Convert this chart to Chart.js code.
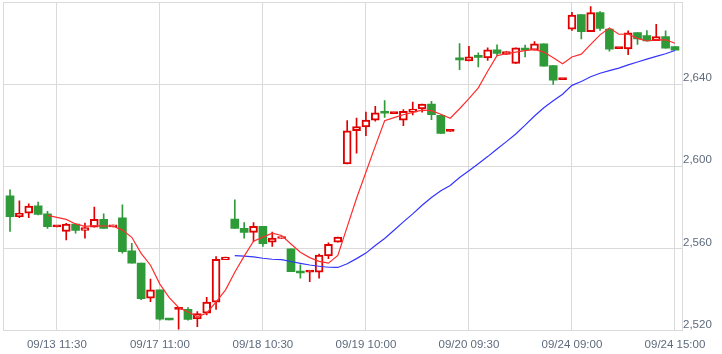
<!DOCTYPE html>
<html>
<head>
<meta charset="utf-8">
<script src="https://cdn.jsdelivr.net/npm/chart.js@4.4.1/dist/chart.umd.min.js"></script>
<style>
html, body { margin: 0; padding: 0; background: #fff; }
</style>
</head>
<body>
<canvas id="priceChart" width="722" height="354"></canvas>
<script>
const tickIndex = [5, 16, 27, 38, 49, 60, 71];
const tickLabels = ['09/13 11:30', '09/17 11:00', '09/18 10:30', '09/19 10:00', '09/20 09:30', '09/24 09:00', '09/24 15:00'];

const open = [
    2585.6, 2575.5, 2577.2, 2580.7, 2576.8, 2570.5, 2568.2, 2571.8, 2568.7, 2570.3,
    2574.2, 2570.5, 2574.9, 2558.8, 2552.8, 2535.7, 2539.8, 2525.2, 2530.3, 2530.3,
    2525.6, 2528.4, 2533.8, 2554.5, 2574.3, 2569.8, 2567.8, 2570.7, 2563.0, 2564.8,
    2559.8, 2549.0, 2548.4, 2548.4, 2556.3, 2563.0, 2601.1, 2617.3, 2619.1, 2622.5,
    2626.0, 2625.6, 2622.5, 2626.3, 2627.9, 2630.3, 2624.8, 2617.0, 2652.0, 2651.3,
    2653.2, 2652.8, 2656.7, 2654.5, 2650.1, 2657.5, 2656.5, 2659.6, 2649.0, 2642.2,
    2666.8, 2673.9, 2665.5, 2674.8, 2666.8, 2657.3, 2657.2, 2665.1, 2663.7, 2661.2,
    2663.2, 2658.3
];
const high = [
    2588.5, 2583.2, 2581.7, 2582.5, 2578.1, 2570.5, 2572.2, 2572.0, 2572.3, 2580.1,
    2576.8, 2571.3, 2581.2, 2562.5, 2552.8, 2545.0, 2539.8, 2525.2, 2530.8, 2531.2,
    2529.2, 2536.2, 2556.0, 2555.7, 2583.7, 2572.6, 2572.6, 2570.7, 2567.9, 2565.5,
    2559.8, 2552.0, 2548.4, 2557.2, 2562.7, 2565.5, 2622.2, 2623.5, 2626.4, 2629.2,
    2632.0, 2625.6, 2627.6, 2631.3, 2630.3, 2631.6, 2625.0, 2617.0, 2659.8, 2658.4,
    2655.2, 2657.7, 2659.1, 2655.8, 2657.7, 2659.0, 2660.7, 2659.6, 2649.0, 2642.2,
    2675.0, 2673.9, 2677.8, 2675.3, 2666.8, 2657.3, 2666.0, 2665.1, 2666.1, 2669.1,
    2666.0, 2658.3
];
const low = [
    2568.2, 2575.0, 2575.0, 2576.3, 2569.7, 2570.5, 2564.1, 2567.4, 2565.0, 2570.3,
    2569.7, 2570.5, 2557.7, 2552.8, 2535.0, 2534.0, 2525.0, 2525.1, 2520.6, 2525.0,
    2521.9, 2527.6, 2530.3, 2554.5, 2569.7, 2565.0, 2563.3, 2560.9, 2560.9, 2564.8,
    2548.7, 2545.5, 2543.8, 2545.5, 2555.0, 2563.0, 2601.1, 2606.4, 2614.9, 2621.9,
    2623.8, 2625.6, 2619.8, 2625.0, 2626.4, 2622.7, 2616.0, 2617.0, 2647.1, 2651.3,
    2648.4, 2651.6, 2654.0, 2654.5, 2650.1, 2653.3, 2656.5, 2648.7, 2639.8, 2642.2,
    2666.1, 2662.0, 2665.5, 2666.2, 2656.0, 2657.3, 2654.4, 2659.3, 2661.0, 2661.2,
    2657.5, 2656.5
];
const close = [
    2575.5, 2577.2, 2580.6, 2576.5, 2570.6, 2570.5, 2571.8, 2568.7, 2570.1, 2574.2,
    2569.7, 2571.3, 2558.4, 2552.8, 2535.5, 2539.8, 2525.5, 2525.1, 2530.3, 2525.4,
    2528.2, 2533.8, 2554.7, 2555.7, 2569.7, 2567.8, 2570.7, 2562.3, 2565.0, 2565.5,
    2548.7, 2548.0, 2548.4, 2556.7, 2562.0, 2565.5, 2617.3, 2619.3, 2622.5, 2626.0,
    2625.8, 2625.6, 2626.7, 2627.9, 2630.3, 2625.1, 2616.0, 2617.0, 2651.8, 2653.3,
    2653.0, 2656.7, 2654.9, 2655.8, 2657.7, 2656.5, 2659.6, 2648.7, 2641.9, 2642.2,
    2673.6, 2665.5, 2674.8, 2667.1, 2657.0, 2657.3, 2665.0, 2662.0, 2661.1, 2663.2,
    2657.5, 2656.5
];
// short moving average (red)
const maShort = [
    null, null, null, null, 2576.1, 2575.1, 2574.1, 2571.9, 2570.7, 2571.1,
    2570.9, 2570.8, 2568.9, 2565.4, 2557.6, 2551.8, 2542.6, 2536.0, 2531.2, 2529.0,
    2526.8, 2528.4, 2534.0, 2539.7, 2548.4, 2556.2, 2563.5, 2565.5, 2567.4, 2566.3,
    2562.1, 2558.1, 2555.5, 2553.7, 2552.8, 2556.6, 2570.5, 2584.4, 2597.1, 2609.8,
    2622.2, 2623.7, 2625.1, 2626.2, 2627.3, 2627.1, 2625.3, 2623.4, 2628.0, 2632.9,
    2638.2, 2646.3, 2653.9, 2654.8, 2655.6, 2656.3, 2656.9, 2655.6, 2652.9, 2649.9,
    2653.2, 2654.6, 2659.4, 2664.0, 2667.4, 2664.3, 2664.4, 2662.3, 2661.0, 2661.6,
    2661.6, 2659.9
];
// long moving average (blue)
const maLong = [
    null, null, null, null, null, null, null, null, null, null,
    null, null, null, null, null, null, null, null, null, null,
    null, null, null, null, 2556.5, 2556.2, 2555.9, 2555.2, 2554.7, 2554.5,
    2553.6, 2552.7, 2551.9, 2551.3, 2550.8, 2550.7, 2552.5, 2555.0, 2557.7, 2561.4,
    2564.8, 2568.8, 2572.9, 2576.8, 2581.0, 2584.8, 2588.1, 2590.6, 2594.5, 2597.8,
    2601.2, 2604.7, 2608.4, 2612.0, 2615.7, 2620.0, 2624.5, 2628.5, 2631.9, 2635.1,
    2639.4, 2641.3, 2643.6, 2645.3, 2646.6, 2647.8, 2649.4, 2650.8, 2652.2, 2653.5,
    2654.8, 2656.4
];

const upColor = '#e00000';
const downColor = '#2e9a38';
const gridColor = '#dadada';
const isUp = i => close[i] >= open[i];
const isFlat = i => close[i] === open[i];

const bodies = open.map((o, i) => ({ x: i, y: [o, close[i]] }));
const wicks = high.map((h, i) => ({ x: i, y: [low[i], h] }));
const toPoints = arr => arr.map((v, i) => ({ x: i, y: v })).filter(p => p.y !== null);

// left edge of the frame
const framePlugin = {
    id: 'frame',
    beforeDatasetsDraw(chart) {
        const { ctx, chartArea } = chart;
        ctx.save();
        ctx.strokeStyle = gridColor;
        ctx.lineWidth = 1;
        ctx.beginPath();
        ctx.moveTo(Math.round(chartArea.left) + 0.5, chartArea.top);
        ctx.lineTo(Math.round(chartArea.left) + 0.5, chartArea.bottom);
        ctx.stroke();
        ctx.restore();
    }
};

Chart.defaults.font.family = "'Liberation Sans', Arial, sans-serif";
Chart.defaults.font.size = 11.5;
Chart.defaults.color = '#5d6a7c';

new Chart(document.getElementById('priceChart').getContext('2d'), {
    type: 'bar',
    data: {
        datasets: [
            {
                type: 'line',
                data: toPoints(maShort),
                borderColor: '#ff2d2d',
                borderWidth: 1.2,
                pointRadius: 0,
                tension: 0,
                order: 0
            },
            {
                type: 'line',
                data: toPoints(maLong),
                borderColor: '#3434ff',
                borderWidth: 1.2,
                pointRadius: 0,
                tension: 0,
                order: 0
            },
            {
                data: bodies,
                grouped: false,
                barThickness: 8,
                minBarLength: 2,
                borderSkipped: false,
                backgroundColor: ctx => isFlat(ctx.dataIndex) ? upColor : (isUp(ctx.dataIndex) ? '#ffffff' : downColor),
                borderColor: ctx => isUp(ctx.dataIndex) ? upColor : downColor,
                borderWidth: ctx => isUp(ctx.dataIndex) ? 2 : 0,
                order: 1
            },
            {
                data: wicks,
                grouped: false,
                barThickness: 1,
                borderWidth: 0,
                backgroundColor: ctx => isUp(ctx.dataIndex) ? upColor : downColor,
                order: 2
            }
        ]
    },
    options: {
        responsive: false,
        animation: false,
        layout: {
            padding: { left: 3, top: 2, right: 0, bottom: 0 }
        },
        scales: {
            x: {
                type: 'linear',
                min: -0.75,
                max: 71.75,
                offset: false,
                afterBuildTicks: axis => {
                    axis.ticks = tickIndex.map(v => ({ value: v }));
                },
                afterFit: axis => {
                    axis.height = 23.5;
                    axis.paddingLeft = 0;
                    axis.paddingRight = 0;
                },
                ticks: {
                    autoSkip: false,
                    maxRotation: 0,
                    padding: 7,
                    callback: v => tickLabels[tickIndex.indexOf(v)]
                },
                grid: { color: gridColor, drawTicks: false, offset: false },
                border: { color: gridColor }
            },
            y: {
                position: 'right',
                min: 2520,
                max: 2680,
                afterFit: axis => {
                    axis.width = 40;
                    axis.paddingTop = 0;
                    axis.paddingBottom = 0;
                },
                ticks: {
                    stepSize: 40,
                    padding: 1,
                    labelOffset: -6,
                    callback: v => v === 2680 ? '' : v.toLocaleString('en-US')
                },
                grid: { color: gridColor, drawTicks: false },
                border: { color: gridColor }
            }
        },
        plugins: {
            legend: { display: false },
            tooltip: { enabled: false }
        }
    },
    plugins: [framePlugin]
});
</script>
</body>
</html>
